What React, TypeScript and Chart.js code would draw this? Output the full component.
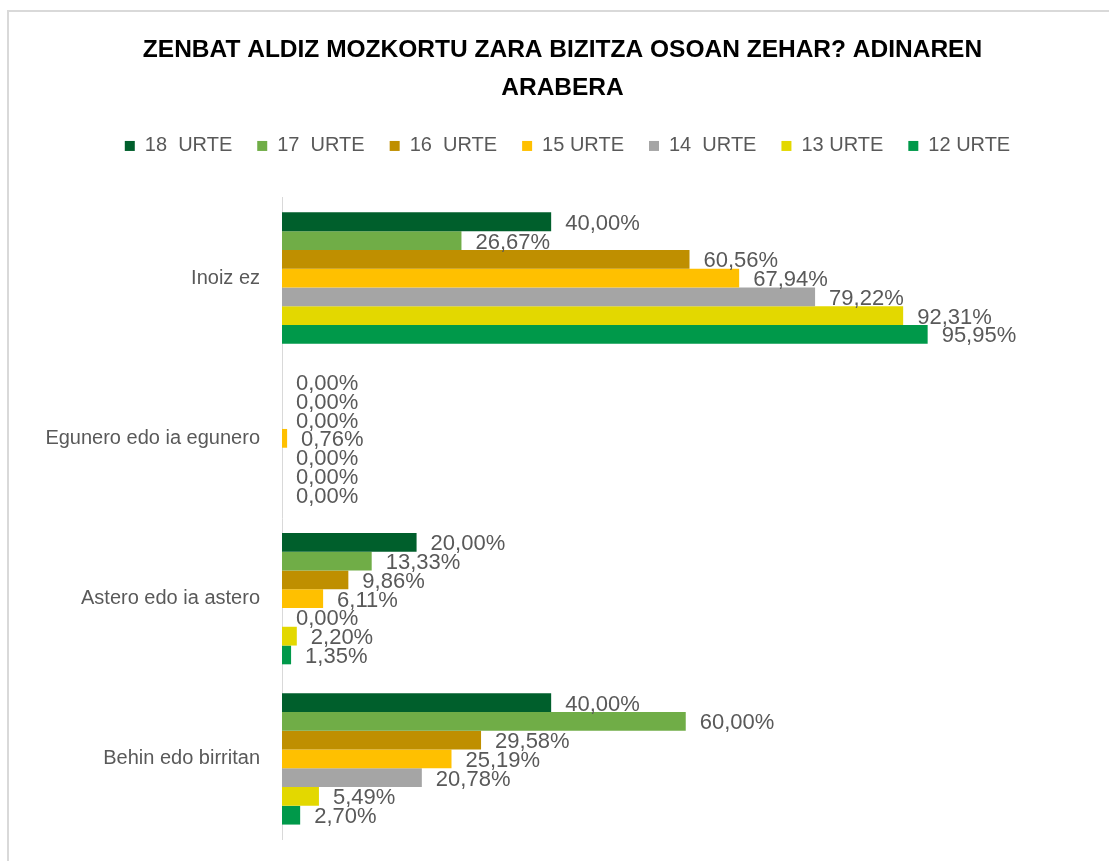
import React, { useEffect, useRef } from "react";
import { Chart, registerables } from "chart.js";

Chart.register(...registerables);

const categories = ["Inoiz ez", "Egunero edo ia egunero", "Astero edo ia astero", "Behin edo birritan"];
const seriesNames = ["18  URTE", "17  URTE", "16  URTE", "15 URTE", "14  URTE", "13 URTE", "12 URTE"];
const seriesColors = ["#005f2c", "#70ad47", "#bf8f00", "#ffc000", "#a5a5a5", "#e3d800", "#00994a"];
const urte18 = [40.0, 0.0, 20.0, 40.0];
const urte17 = [26.67, 0.0, 13.33, 60.0];
const urte16 = [60.56, 0.0, 9.86, 29.58];
const urte15 = [67.94, 0.76, 6.11, 25.19];
const urte14 = [79.22, 0.0, 0.0, 20.78];
const urte13 = [92.31, 0.0, 2.2, 5.49];
const urte12 = [95.95, 0.0, 1.35, 2.7];
const seriesValues = [urte18, urte17, urte16, urte15, urte14, urte13, urte12];
const titleLines = ["ZENBAT ALDIZ MOZKORTU ZARA BIZITZA OSOAN ZEHAR? ADINAREN", "ARABERA"];

const FONT = "'Liberation Sans', Arial, sans-serif";

const fmt = (v: number) => v.toFixed(2).replace(".", ",") + "%";

const framePlugin = {
  id: "frame",
  beforeDraw(chart: any) {
    const ctx = chart.ctx;
    ctx.save();
    ctx.fillStyle = "#ffffff";
    ctx.fillRect(0, 0, chart.width, chart.height);
    ctx.strokeStyle = "#d9d9d9";
    ctx.lineWidth = 2;
    ctx.strokeRect(8, 11, chart.width + 10, chart.height + 10);
    ctx.restore();
  },
};

const legendGapPlugin = {
  id: "legendGap",
  beforeInit(chart: any) {
    const legend = chart.legend;
    if (!legend) return;
    const orig = legend.fit;
    legend.fit = function () {
      orig.call(this);
      this.height += 32;
    };
  },
  afterLayout(chart: any) {
    const legend = chart.legend;
    if (!legend) return;
    legend.left += 5;
    legend.right += 5;
  },
};

const labelPlugin = {
  id: "valueLabels",
  afterDatasetsDraw(chart: any) {
    const ctx = chart.ctx;
    ctx.save();
    ctx.font = `22px ${FONT}`;
    ctx.fillStyle = "#595959";
    ctx.textAlign = "left";
    ctx.textBaseline = "middle";
    chart.data.datasets.forEach((ds: any, di: number) => {
      const meta = chart.getDatasetMeta(di);
      meta.data.forEach((el: any, i: number) => {
        ctx.fillText(fmt(ds.data[i]), el.x + 14, el.y + 2);
      });
    });
    ctx.restore();
  },
};

export default function App() {
  const ref = useRef<HTMLCanvasElement>(null);
  useEffect(() => {
    if (!ref.current) return;
    const chart = new Chart(ref.current, {
      type: "bar",
      data: {
        labels: categories,
        datasets: seriesNames.map((n, i) => ({
          label: n,
          data: seriesValues[i],
          backgroundColor: seriesColors[i],
          borderWidth: 0,
          categoryPercentage: 0.82,
          barPercentage: 1.0,
        })),
      },
      options: {
        indexAxis: "y",
        animation: false,
        responsive: false,
        layout: { padding: { left: 16, right: 0, top: 0, bottom: 22 } },
        scales: {
          x: { display: false, min: 0, max: 122.9 },
          y: {
            grid: { display: false, drawTicks: true, tickLength: 22, tickColor: "rgba(0,0,0,0)" },
            border: { display: true, color: "#d9d9d9", width: 1 },
            ticks: { color: "#595959", font: { family: FONT, size: 20 }, padding: 0 },
            afterFit: (scale: any) => {
              scale.width = 266;
            },
          },
        },
        plugins: {
          title: {
            display: true,
            text: titleLines,
            color: "#000000",
            font: { family: FONT, size: 24.5, weight: "bold", lineHeight: 1.55 },
            padding: { top: 31, bottom: 4 },
          },
          legend: {
            display: true,
            position: "top",
            labels: {
              color: "#595959",
              font: { family: FONT, size: 20 },
              boxWidth: 10,
              boxHeight: 10,
              padding: 25,
            },
          },
          tooltip: { enabled: false },
        },
      },
      plugins: [framePlugin, legendGapPlugin, labelPlugin],
    });
    return () => chart.destroy();
  }, []);
  return (
    <div style={{ position: "fixed", left: 0, top: 0, width: 1109, height: 861 }}>
      <canvas ref={ref} width={1109} height={861} style={{ width: 1109, height: 861 }} />
    </div>
  );
}
